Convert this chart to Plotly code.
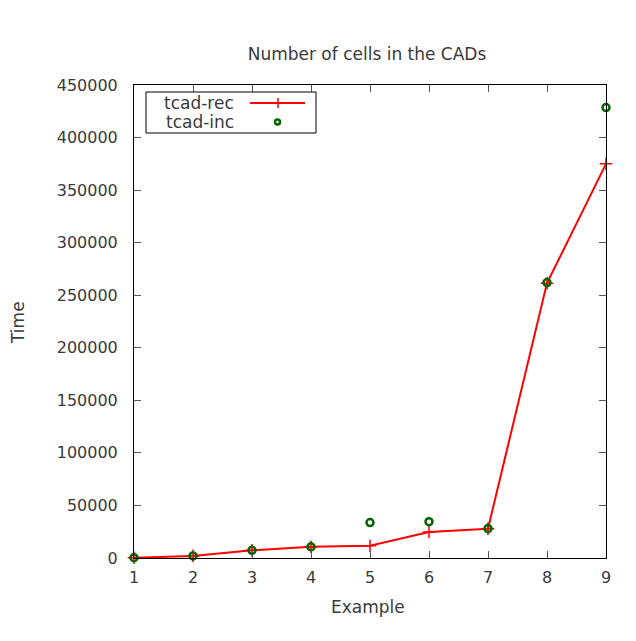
import plotly.graph_objects as go

examples = [1, 2, 3, 4, 5, 6, 7, 8, 9]
tcad_rec = [300, 2000, 7300, 10700, 11600, 24700, 27900, 261500, 375000]
tcad_inc = [300, 2000, 7300, 10600, 33700, 34600, 28000, 262000, 428500]
y_ticks = [0, 50000, 100000, 150000, 200000, 250000, 300000, 350000, 400000, 450000]

RED = "#ff0000"
GREEN = "#006400"
FONT = "DejaVu Sans"
TXT = "#3a3a3a"

fig = go.Figure()
fig.add_trace(go.Scatter(
    x=examples, y=tcad_rec, mode="lines+markers", name="tcad-rec",
    line=dict(color=RED, width=2),
    marker=dict(symbol="cross-thin", size=9, line=dict(color=RED, width=1.5)),
    showlegend=False, cliponaxis=False))
fig.add_trace(go.Scatter(
    x=examples, y=tcad_inc, mode="markers", name="tcad-inc",
    marker=dict(symbol="circle-open", size=7, color=GREEN, line=dict(color=GREEN, width=2.5)),
    showlegend=False, cliponaxis=False))

axis_common = dict(
    showgrid=False, zeroline=False, showline=True, linecolor="#000000", linewidth=1,
    mirror="allticks", ticks="inside", ticklen=7, tickcolor="#555555", tickwidth=1,
    tickfont=dict(family=FONT, size=16, color=TXT),
)
fig.update_xaxes(range=[1, 9], tickvals=examples, ticktext=[str(v) for v in examples],
                 ticklabelstandoff=5, **axis_common)
fig.update_yaxes(range=[0, 450000], tickvals=y_ticks, ticktext=[str(v) for v in y_ticks],
                 ticklabelstandoff=12, **axis_common)

# plot area: 472 x 473 px
PW, PH = 472.0, 473.0
def px(x):
    return (x - 134) / PW
def py(y):
    return (558 - y) / PH

# gnuplot-style key (text on left, sample on right)
shapes = [
    dict(type="rect", xref="paper", yref="paper", x0=px(146), x1=px(316), y0=py(133), y1=py(92),
         line=dict(color="#000000", width=1), fillcolor="white", layer="above"),
    dict(type="line", xref="paper", yref="paper", x0=px(250), x1=px(305), y0=py(103), y1=py(103),
         line=dict(color=RED, width=2)),
    dict(type="line", xref="paper", yref="paper", x0=px(278), x1=px(278), y0=py(98), y1=py(108),
         line=dict(color=RED, width=1.5)),
    dict(type="circle", xref="paper", yref="paper", x0=px(275), x1=px(280), y0=py(124.5), y1=py(119.5),
         line=dict(color=GREEN, width=2.5)),
]
annotations = [
    dict(text="tcad-rec", xref="paper", yref="paper", x=px(236), y=py(103), xanchor="right",
         yanchor="middle", showarrow=False, font=dict(family=FONT, size=17, color=TXT)),
    dict(text="tcad-inc", xref="paper", yref="paper", x=px(236), y=py(122), xanchor="right",
         yanchor="middle", showarrow=False, font=dict(family=FONT, size=17, color=TXT)),
    dict(text="Example", xref="paper", yref="paper", x=px(368), y=py(607), xanchor="center",
         yanchor="middle", showarrow=False, font=dict(family=FONT, size=17, color=TXT)),
    dict(text="Time", xref="paper", yref="paper", x=px(18), y=py(323), xanchor="center",
         yanchor="middle", textangle=-90, showarrow=False, font=dict(family=FONT, size=17, color=TXT)),
]

fig.update_layout(
    width=636, height=641, autosize=False,
    margin=dict(l=126, r=38, t=77, b=91),
    paper_bgcolor="white", plot_bgcolor="white",
    title=dict(text="Number of cells in the CADs", x=(367 - 8) / 636, xanchor="center",
               y=1 - (54 - 8) / 641, yanchor="middle", font=dict(family=FONT, size=17, color=TXT)),
    shapes=shapes, annotations=annotations, showlegend=False,
)

fig.write_html("out.html")
